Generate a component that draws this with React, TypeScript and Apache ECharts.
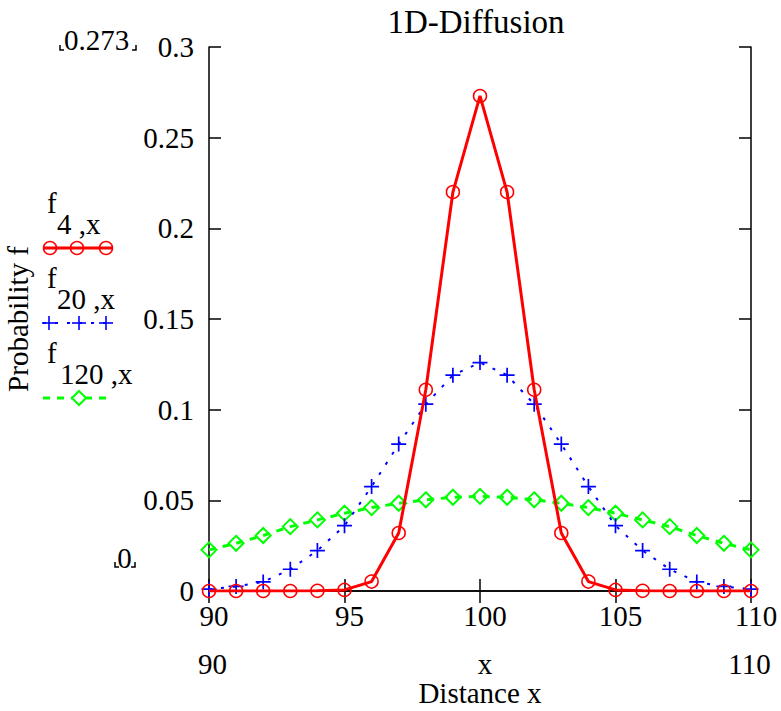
import React, { useEffect, useRef } from "react";
import * as echarts from "echarts";

const xValues = [90, 91, 92, 93, 94, 95, 96, 97, 98, 99, 100, 101, 102, 103, 104, 105, 106, 107, 108, 109, 110];
const f4 = [0, 0, 0, 0, 0.0001, 0.0006, 0.0052, 0.032, 0.111, 0.22, 0.273, 0.22, 0.111, 0.032, 0.0052, 0.0006, 0.0001, 0, 0, 0, 0];
const f20 = [0.001, 0.0025, 0.005, 0.012, 0.0223, 0.036, 0.0576, 0.081, 0.103, 0.119, 0.126, 0.119, 0.103, 0.081, 0.0576, 0.036, 0.0223, 0.012, 0.005, 0.0025, 0.001];
const f120 = [0.0227, 0.0263, 0.0306, 0.0355, 0.0392, 0.0429, 0.046, 0.0484, 0.0503, 0.0517, 0.0522, 0.0517, 0.0503, 0.0484, 0.046, 0.0429, 0.0392, 0.0355, 0.0306, 0.0263, 0.0227];
const xTickMin = 90;
const xTickMax = 110;
const xTickStep = 5;
const yTickMin = 0;
const yTickMax = 0.3;
const yTickStep = 0.05;
const titleText = "1D-Diffusion";
const xName = "Distance x";
const yName = "Probability f";
const legendNames = [
  { main: "f", sub: "4 ,x" },
  { main: "f", sub: "20 ,x" },
  { main: "f", sub: "120 ,x" },
];

const FONT = "'Liberation Serif', 'Times New Roman', serif";
const RED = "#ff0000";
const BLUE = "#0000ff";
const GREEN = "#00ff00";
const PLUS = "path://M0,6.2H14V7.8H0Z M6.2,0H7.8V14H6.2Z";

function txt(text: string, x: number, y: number, align: string, size = 29, extra: any = {}) {
  return {
    type: "text",
    x,
    y,
    silent: true,
    style: { text, fill: "#000", font: `${size}px ${FONT}`, align, verticalAlign: "middle", ...extra },
  };
}

function bracketL(x: number, y: number) {
  return { type: "polyline", silent: true, shape: { points: [[x, y - 5], [x, y], [x + 4, y]] }, style: { stroke: "#000", lineWidth: 1.5, fill: "none" } };
}
function bracketR(x: number, y: number) {
  return { type: "polyline", silent: true, shape: { points: [[x - 4, y], [x, y], [x, y - 5]] }, style: { stroke: "#000", lineWidth: 1.5, fill: "none" } };
}

export default function App() {
  const ref = useRef<HTMLDivElement>(null);
  useEffect(() => {
    document.body.style.margin = "0";
    if (!ref.current) return;
    const chart = echarts.init(ref.current, undefined, { renderer: "svg" });

    const axisFont = { fontSize: 29, fontFamily: FONT, color: "#000" };
    const axisLine = { show: true, lineStyle: { color: "#000", width: 1.5 } };
    const tick = { show: true, inside: true, length: 12, lineStyle: { color: "#000", width: 1.5 } };

    const legendGraphics: any[] = [];
    const legendY = [248, 323, 398];
    legendNames.forEach((n, i) => {
      const top = legendY[i];
      legendGraphics.push(txt(n.main, 47, top - 45, "left", 29));
      legendGraphics.push(txt(n.sub, i === 2 ? 60 : 57, top - 24, "left", 29));
    });
    // red sample
    legendGraphics.push({ type: "line", silent: true, shape: { x1: 43, y1: 248, x2: 112, y2: 248 }, style: { stroke: RED, lineWidth: 3 } });
    [50, 77, 106].forEach((cx) =>
      legendGraphics.push({ type: "circle", silent: true, shape: { cx, cy: 248, r: 6.5 }, style: { stroke: RED, lineWidth: 1.5, fill: "none" } })
    );
    // blue sample
    legendGraphics.push({ type: "line", silent: true, shape: { x1: 43, y1: 323, x2: 112, y2: 323 }, style: { stroke: BLUE, lineWidth: 2, lineDash: [3, 9] } });
    [49, 79, 106].forEach((cx) => {
      legendGraphics.push({ type: "line", silent: true, shape: { x1: cx - 7, y1: 323, x2: cx + 7, y2: 323 }, style: { stroke: BLUE, lineWidth: 1.6 } });
      legendGraphics.push({ type: "line", silent: true, shape: { x1: cx, y1: 316, x2: cx, y2: 330 }, style: { stroke: BLUE, lineWidth: 1.6 } });
    });
    // green sample
    legendGraphics.push({ type: "line", silent: true, shape: { x1: 43, y1: 398, x2: 106, y2: 398 }, style: { stroke: GREEN, lineWidth: 3, lineDash: [7, 7] } });
    legendGraphics.push({
      type: "polygon",
      silent: true,
      shape: { points: [[79, 391], [86, 398], [79, 405], [72, 398]] },
      style: { stroke: GREEN, lineWidth: 2, fill: "#fff" },
    });

    const option: any = {
      animation: false,
      backgroundColor: "#fff",
      grid: { left: 209, top: 47, width: 542, height: 544, containLabel: false, outerBoundsMode: "none" },
      xAxis: [
        {
          type: "value",
          min: xTickMin,
          max: xTickMax,
          interval: xTickStep,
          position: "bottom",
          axisLine,
          axisTick: tick,
          splitLine: { show: false },
          axisLabel: { ...axisFont, margin: 10, padding: [0, 0, 0, 10] },
          name: xName,
          nameLocation: "middle",
          nameGap: 89,
          nameTextStyle: { fontSize: 29, fontFamily: FONT, color: "#000", lineHeight: 26 },
        },
        {
          type: "value",
          min: xTickMin,
          max: xTickMax,
          interval: xTickStep,
          position: "top",
          axisLine,
          axisTick: tick,
          splitLine: { show: false },
          axisLabel: { show: false },
        },
      ],
      yAxis: [
        {
          type: "value",
          min: yTickMin,
          max: yTickMax,
          interval: yTickStep,
          position: "left",
          axisLine,
          axisTick: tick,
          splitLine: { show: false },
          axisLabel: { ...axisFont, margin: 15, padding: [8, 0, 0, 0] },
          name: yName,
          nameLocation: "middle",
          nameRotate: 90,
          nameGap: 177,
          nameTextStyle: { fontSize: 29, fontFamily: FONT, color: "#000" },
        },
        {
          type: "value",
          min: yTickMin,
          max: yTickMax,
          interval: yTickStep,
          position: "right",
          axisLine,
          axisTick: tick,
          splitLine: { show: false },
          axisLabel: { show: false },
        },
      ],
      series: [
        {
          name: "f4,x",
          type: "line",
          xAxisIndex: 0,
          yAxisIndex: 0,
          data: xValues.map((x, i) => [x, f4[i]]),
          symbol: "circle",
          symbolSize: 13,
          itemStyle: { color: "rgba(0,0,0,0)", borderColor: RED, borderWidth: 1.5 },
          lineStyle: { color: RED, width: 3 },
          z: 4,
        },
        {
          name: "f20,x",
          type: "line",
          xAxisIndex: 0,
          yAxisIndex: 0,
          data: xValues.map((x, i) => [x, f20[i]]),
          symbol: PLUS,
          symbolSize: 15,
          itemStyle: { color: BLUE },
          lineStyle: { color: BLUE, width: 2, type: [3, 9] },
          z: 3,
        },
        {
          name: "f120,x",
          type: "line",
          xAxisIndex: 0,
          yAxisIndex: 0,
          data: xValues.map((x, i) => [x, f120[i]]),
          symbol: "diamond",
          symbolSize: 15,
          itemStyle: { color: "rgba(0,0,0,0)", borderColor: GREEN, borderWidth: 2 },
          lineStyle: { color: GREEN, width: 3, type: [7, 7] },
          z: 2,
        },
      ],
      graphic: [
        txt(titleText, 476, 22, "center", 33),
        txt("0.273", 96.5, 40, "center", 29),
        bracketL(60, 50),
        bracketR(136, 50),
        txt("0", 124.5, 558, "center", 29),
        bracketL(115, 567),
        bracketR(135, 567),
        txt("90", 212.5, 664, "center", 29),
        txt("x", 485, 664, "center", 29),
        txt("110", 749.5, 664, "center", 29),
        ...legendGraphics,
      ],
    };
    chart.setOption(option);
    return () => chart.dispose();
  }, []);
  return <div ref={ref} style={{ width: 781, height: 711 }} />;
}
